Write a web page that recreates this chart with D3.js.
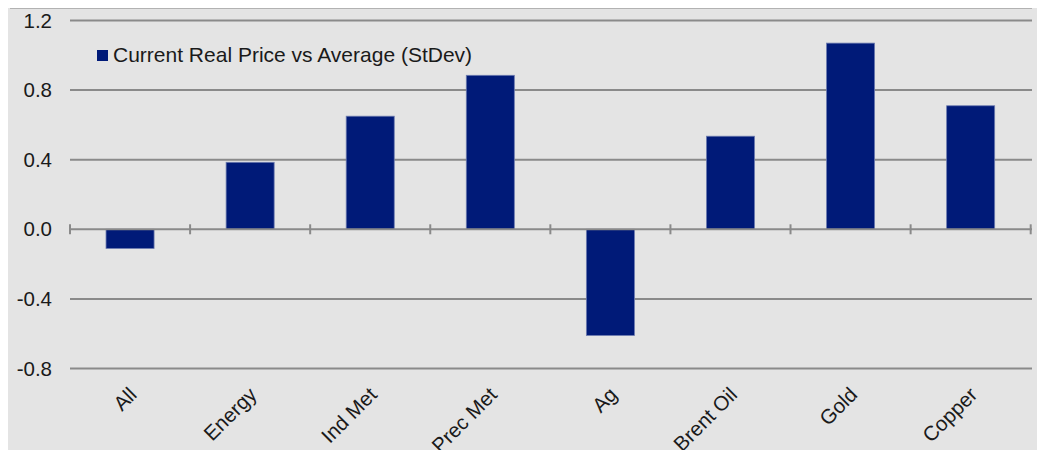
<!DOCTYPE html>
<html>
<head>
<meta charset="utf-8">
<script src="https://cdn.jsdelivr.net/npm/d3@7"></script>
<style>
  html, body { margin: 0; padding: 0; background: #ffffff; }
  svg { display: block; }
  text { font-family: "Liberation Sans", Arial, sans-serif; fill: #1a1a1a; }
</style>
</head>
<body>
<svg id="chart" width="1037" height="450"></svg>
<script>
// Commodity categories and their current real price vs long-run average, in standard deviations
const categories = ["All", "Energy", "Ind Met", "Prec Met", "Ag", "Brent Oil", "Gold", "Copper"];
const values = [-0.11, 0.385, 0.65, 0.885, -0.61, 0.535, 1.07, 0.71];
const seriesName = "Current Real Price vs Average (StDev)";
const yTicks = [-0.8, -0.4, 0.0, 0.4, 0.8, 1.2];

const W = 1037, H = 450;
const plot = { left: 70, right: 1030.7, top: 20.5, bottom: 368.5 };

const svg = d3.select("#chart");

// panel background and its top border
svg.append("rect").attr("x", 8).attr("y", 8).attr("width", W - 8).attr("height", H - 8)
  .attr("fill", "#e4e4e4");
svg.append("line").attr("x1", 10).attr("x2", 1032).attr("y1", 8.5).attr("y2", 8.5)
  .attr("stroke", "#b2b2b2").attr("stroke-width", 1);

const y = d3.scaleLinear().domain([-0.8, 1.2]).range([plot.bottom, plot.top]);

// category slots (ticks sit on slot boundaries) and bars inside them
const slots = d3.scaleBand().domain(categories).range([plot.left, plot.right]).padding(0);
const x = d3.scaleBand().domain(categories).range([plot.left, plot.right])
  .paddingInner(0.6).paddingOuter(0.3);

// horizontal gridlines
svg.append("g").selectAll("line").data(yTicks.filter(t => t !== 0)).join("line")
  .attr("x1", plot.left).attr("x2", 1032)
  .attr("y1", d => y(d)).attr("y2", d => y(d))
  .attr("stroke", "#8a8a8a").attr("stroke-width", 2);

// y tick labels, plain hyphen for negatives
const fmt = d3.formatLocale({ decimal: ".", thousands: ",", grouping: [3], currency: ["", ""], minus: "-" }).format(".1f");
svg.append("g").selectAll("text").data(yTicks).join("text")
  .attr("x", 52).attr("y", d => y(d)).attr("dy", "0.35em")
  .attr("text-anchor", "end").attr("font-size", 20.5)
  .text(d => fmt(d));

// bars
svg.append("g").selectAll("rect").data(categories).join("rect")
  .attr("x", d => x(d))
  .attr("width", x.bandwidth())
  .attr("y", (d, i) => y(Math.max(0, values[i])))
  .attr("height", (d, i) => Math.abs(y(values[i]) - y(0)))
  .attr("fill", "#001a78")
  .attr("stroke", "#6c7bb0").attr("stroke-width", 0.8);

// zero axis with boundary ticks
svg.append("line").attr("x1", plot.left).attr("x2", 1032).attr("y1", y(0)).attr("y2", y(0))
  .attr("stroke", "#8a8a8a").attr("stroke-width", 2);
const bounds = categories.map(c => slots(c)).concat([plot.right]);
svg.append("g").selectAll("line").data(bounds).join("line")
  .attr("x1", d => d).attr("x2", d => d)
  .attr("y1", y(0) - 5).attr("y2", y(0) + 5)
  .attr("stroke", "#8a8a8a").attr("stroke-width", 2);

// rotated category labels
svg.append("g").selectAll("text").data(categories).join("text")
  .attr("font-size", 20.5)
  .attr("text-anchor", "end")
  .attr("transform", d => `translate(${slots(d) + slots.bandwidth() / 2 + 8},396) rotate(-45)`)
  .text(d => d);

// legend
const lg = svg.append("g").attr("transform", "translate(97,50)");
lg.append("rect").attr("width", 11).attr("height", 11).attr("fill", "#001a78");
lg.append("text").attr("x", 16).attr("y", 12).attr("font-size", 21).text(seriesName);
</script>
</body>
</html>
